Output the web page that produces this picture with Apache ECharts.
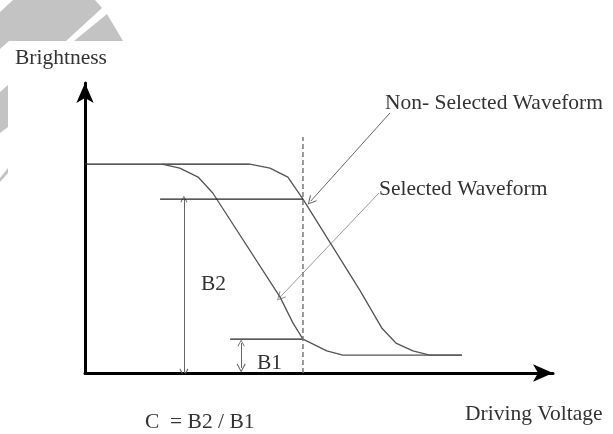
<!DOCTYPE html>
<html>
<head>
<meta charset="utf-8">
<script src="https://cdn.jsdelivr.net/npm/echarts@6/dist/echarts.min.js"></script>
<style>
    html, body { margin: 0; padding: 0; background: #fff; }
    #contrast { width: 613px; height: 434px; }
</style>
</head>
<body>
<div id="contrast"></div>
<script>
    // selected / non-selected waveform (voltage, brightness)
    const selectedVoltage = [1.68, 2.07, 2.47, 2.79, 4.26, 4.54, 4.76, 5.28, 5.63, 8.23]
    const selectedBrightness = [7.46, 7.32, 7.0, 6.43, 2.71, 1.79, 1.21, 0.79, 0.64, 0.64]
    const nonSelectedVoltage = [3.60, 4.04, 4.43, 4.76, 6.00, 6.48, 6.79, 7.16, 7.53, 8.23]
    const nonSelectedBrightness = [7.46, 7.32, 7.0, 6.21, 2.96, 1.61, 1.07, 0.79, 0.64, 0.64]

    // common flat top of both curves
    const plateauVoltage = [0, 3.60]
    const plateauBrightness = [7.46, 7.46]

    // operating voltage and the two brightness levels
    const driveVoltage = 4.76
    const dashTop = 8.43
    const levelB2 = 6.21
    const levelB1 = 1.21
    const b2LineStart = 1.64
    const b1LineStart = 3.17

    // arrows: [x1, y1, x2, y2]
    const b2Arrow = [2.16, levelB2, 2.16, 0]
    const b1Arrow = [3.41, 1.07, 3.41, 0.18]
    const nonSelectedPointer = [6.66, 9.29, 4.93, 6.14]
    const selectedPointer = [6.42, 6.43, 4.26, 2.71]

    const zip = (xs, ys) => xs.map((x, i) => [x, ys[i]])
    const chevron = 'path://M5,0 L10,9 L9,9.8 L5,2.2 L1,9.8 L0,9 Z'
    const textFont = '21.5px "Liberation Serif", "DejaVu Serif", serif'
    const txt = (text, left, top) => ({
        type: 'text', left: left, top: top, z: 10,
        style: {text: text, font: textFont, fill: '#333'}
    })
    const shade = (points) => ({
        type: 'polygon', z: -1, silent: true,
        shape: {points: points},
        style: {fill: '#c3c3c3'}
    })

    const _contrast = {
        animation: false,
        backgroundColor: '#fff',
        grid: {left: 85, right: 60, top: 83, bottom: 61},
        xAxis: {
            type: 'value', min: 0, max: 10.22,
            axisLine: {
                show: true, onZero: false,
                symbol: ['none', 'arrow'], symbolSize: [13, 20],
                lineStyle: {color: '#000', width: 3}
            },
            axisTick: {show: false},
            axisLabel: {show: false},
            splitLine: {show: false}
        },
        yAxis: {
            type: 'value', min: 0, max: 10.36,
            axisLine: {
                show: true, onZero: false,
                symbol: ['none', 'arrow'], symbolSize: [13, 20],
                lineStyle: {color: '#000', width: 3}
            },
            axisTick: {show: false},
            axisLabel: {show: false},
            splitLine: {show: false}
        },
        graphic: [
            shade([[0, 12], [13, 0], [95, 0], [102, 8], [66, 41], [9, 41], [0, 49]]),
            shade([[107, 14], [123, 41], [74, 41]]),
            shade([[0, 92], [8, 85], [8, 127], [0, 133]]),
            shade([[0, 178], [8, 168], [8, 173], [0, 182]]),
            txt('Brightness', 15, 47),
            txt('Non- Selected Waveform', 385, 92),
            txt('Selected Waveform', 379, 178),
            txt('B2', 201, 273),
            txt('B1', 257, 352),
            txt('C  = B2 / B1', 145, 411),
            txt('Driving Voltage', 465, 403)
        ],
        series: [
            {
                type: 'line',
                data: zip(plateauVoltage, plateauBrightness),
                showSymbol: false,
                lineStyle: {color: '#222', width: 1.3}
            },
            {
                name: 'Non-Selected Waveform',
                type: 'line',
                data: zip(nonSelectedVoltage, nonSelectedBrightness),
                showSymbol: false,
                lineStyle: {color: '#555', width: 1.3}
            },
            {
                name: 'Selected Waveform',
                type: 'line',
                data: zip(selectedVoltage, selectedBrightness),
                showSymbol: false,
                lineStyle: {color: '#555', width: 1.3}
            },
            {
                type: 'line',
                data: [[b2LineStart, levelB2], [driveVoltage, levelB2]],
                showSymbol: false,
                lineStyle: {color: '#222', width: 1.3}
            },
            {
                type: 'line',
                data: [[b1LineStart, levelB1], [driveVoltage, levelB1]],
                showSymbol: false,
                lineStyle: {color: '#222', width: 1.3}
            },
            {
                type: 'line',
                data: [[driveVoltage, 0], [driveVoltage, dashTop]],
                showSymbol: false,
                lineStyle: {color: '#777', width: 1.5, type: [5, 3]}
            },
            {
                type: 'lines',
                coordinateSystem: 'cartesian2d',
                symbol: ['none', chevron],
                symbolSize: [7, 9],
                lineStyle: {color: '#666', width: 1, opacity: 1},
                data: [
                    {coords: [[nonSelectedPointer[0], nonSelectedPointer[1]], [nonSelectedPointer[2], nonSelectedPointer[3]]]},
                    {coords: [[selectedPointer[0], selectedPointer[1]], [selectedPointer[2], selectedPointer[3]]], lineStyle: {color: '#999'}}
                ]
            },
            {
                type: 'lines',
                coordinateSystem: 'cartesian2d',
                symbol: [chevron, chevron],
                symbolSize: [7, 9],
                lineStyle: {color: '#666', width: 1, opacity: 1},
                data: [
                    {coords: [[b2Arrow[0], b2Arrow[1]], [b2Arrow[2], b2Arrow[3]]]},
                    {coords: [[b1Arrow[0], b1Arrow[1]], [b1Arrow[2], b1Arrow[3]]]}
                ]
            }
        ]
    }

    const contrastChart = echarts.init(document.getElementById('contrast'))
    contrastChart.setOption(_contrast)
    window.addEventListener('resize', () => contrastChart.resize())
</script>
</body>
</html>
